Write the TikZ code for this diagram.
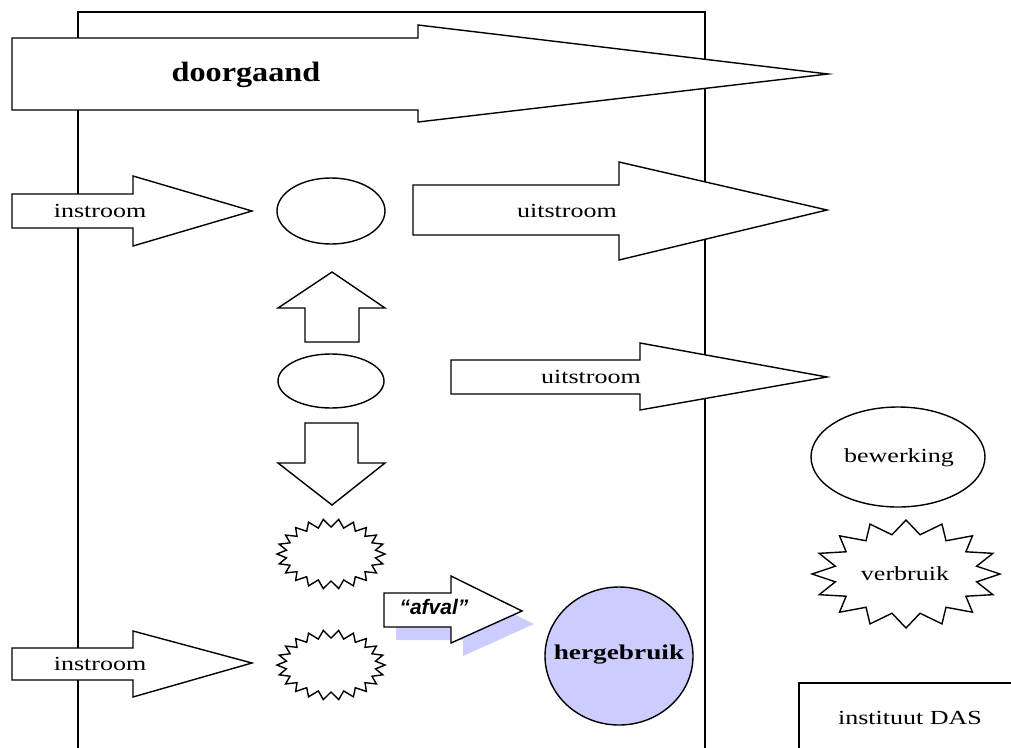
\documentclass[tikz,border=0pt]{standalone}
\usepackage{fontspec}
\newfontfamily\wserif{Liberation Serif}[FakeStretch=1.3]
\newfontfamily\bserif{Liberation Serif}[FakeStretch=1.15]
\newfontfamily\asans{Liberation Sans}
\definecolor{lav}{RGB}{204,204,255}
\begin{document}
\begin{tikzpicture}[x=1pt,y=-1pt,
  blk/.style={draw=black, fill=white, line width=1.4pt, line join=miter},
  lbl/.style={font=\wserif\fontsize{20}{24}\selectfont, inner sep=0pt}]
\useasboundingbox (0,0) rectangle (1011,747);
% institute boundary
\draw[line width=1.4pt] (78,750) -- (78,12) -- (705,12) -- (705,750);
% doorgaand arrow
\draw[blk] (12,38) -- (418,38) -- (418,25) -- (828,74) -- (418,122) -- (418,110) -- (12,110) -- cycle;
\node[font=\bserif\bfseries\fontsize{28}{32}\selectfont, inner sep=0pt] (doorg) at (246,75) {doorgaand};
% instroom 1
\draw[blk] (12,194) -- (133,194) -- (133,176) -- (252,211) -- (133,246) -- (133,228) -- (12,228) -- cycle;
\node[lbl] (in1) at (100,211) {instroom};
% ellipse 1
\draw[blk] (331,211) ellipse [x radius=54, y radius=33];
\coordinate (e1) at (331,211);
% uitstroom 1
\draw[blk] (413,185) -- (619,185) -- (619,162) -- (827,210) -- (619,260) -- (619,235) -- (413,235) -- cycle;
\node[lbl] (uit1) at (567,211) {uitstroom};
% up arrow
\draw[blk] (332,272) -- (385,308) -- (359,308) -- (359,342) -- (305,342) -- (305,308) -- (278,308) -- cycle;
% ellipse 2
\draw[blk] (331,381) ellipse [x radius=53, y radius=27];
\coordinate (e2) at (331,381);
% uitstroom 2
\draw[blk] (451,360) -- (640,360) -- (640,343) -- (827,377) -- (640,410) -- (640,394) -- (451,394) -- cycle;
\node[lbl] (uit2) at (591,377) {uitstroom};
% down arrow
\draw[blk] (305,423) -- (358,423) -- (358,463) -- (385,463) -- (332,505) -- (278,463) -- (305,463) -- cycle;
% starburst 1
\draw[blk, shift={(331,554)}] (0:54 and 35)
  \foreach \i in {1,...,21} { -- ({\i*360/22-180/22}:45 and 27) -- ({\i*360/22}:54 and 35) }
  -- ({360-180/22}:45 and 27) -- cycle;
% starburst 2
\draw[blk, shift={(331,665)}] (0:54 and 35)
  \foreach \i in {1,...,21} { -- ({\i*360/22-180/22}:45 and 27) -- ({\i*360/22}:54 and 35) }
  -- ({360-180/22}:45 and 27) -- cycle;
% afval arrow with shadow
\fill[lav, shift={(12,13)}] (384,593) -- (451,593) -- (451,576) -- (522,611) -- (451,643) -- (451,627) -- (384,627) -- cycle;
\draw[blk] (384,593) -- (451,593) -- (451,576) -- (522,611) -- (451,643) -- (451,627) -- (384,627) -- cycle;
\node[font=\asans\bfseries\itshape\fontsize{21}{24}\selectfont, inner sep=0pt] (afval) at (434,607) {“afval”};
% hergebruik
\draw[blk, fill=lav] (619,656) ellipse [x radius=74, y radius=69];
\node[font=\wserif\bfseries\fontsize{21}{24}\selectfont, inner sep=0pt] (herg) at (619,655) {hergebruik};
% instroom 2
\draw[blk] (12,648) -- (133,648) -- (133,631) -- (252,663) -- (133,697) -- (133,680) -- (12,680) -- cycle;
\node[lbl] (in2) at (100,664) {instroom};
% legend: bewerking
\draw[blk] (898,457) ellipse [x radius=87, y radius=50];
\node[lbl] (bew) at (899,458) {bewerking};
% legend: verbruik
\draw[blk, shift={(906,574)}] (0:94 and 54)
  \foreach \i in {1,...,15} { -- ({\i*360/16-180/16}:72 and 40) -- ({\i*360/16}:94 and 54) }
  -- ({360-180/16}:72 and 40) -- cycle;
\node[lbl] (verb) at (905,574) {verbruik};
% legend: instituut DAS
\draw[line width=1.4pt] (1015,683) -- (799,683) -- (799,750);
\node[lbl] (das) at (910,718) {instituut DAS};
\end{tikzpicture}
\end{document}
